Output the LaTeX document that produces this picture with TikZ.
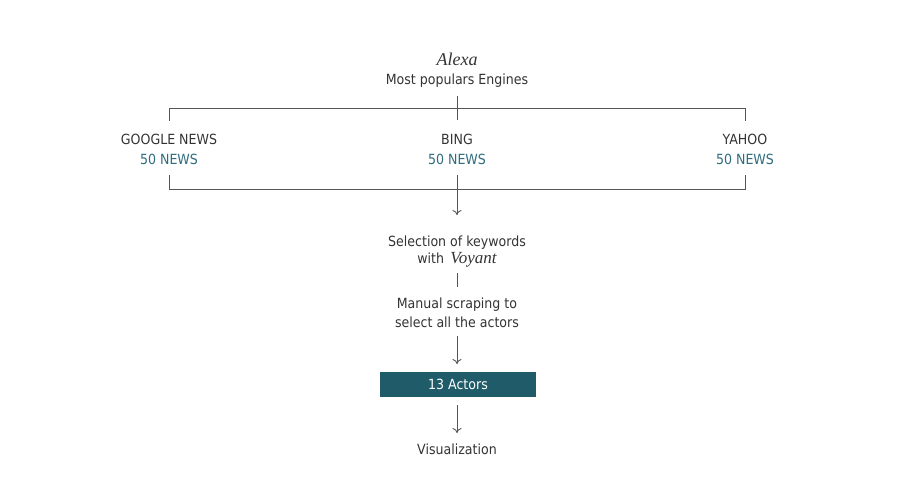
\documentclass[tikz,border=0pt]{standalone}
\usepackage{fontspec}
\usetikzlibrary{arrows.meta}
\setmainfont{DejaVu Sans Condensed}
\newfontfamily\serifit{Liberation Serif}
\definecolor{ink}{HTML}{333333}
\definecolor{newsblue}{HTML}{2D6B7D}
\definecolor{boxfill}{HTML}{1F5B69}
\definecolor{rulegray}{HTML}{555555}
\tikzset{
  lbl/.style={text=ink, font=\fontsize{14}{18.5}\selectfont, inner sep=0pt, align=center, yshift=-1.5pt},
  news/.style={lbl, text=newsblue},
  tool/.style={lbl, font=\serifit\itshape\fontsize{18}{20}\selectfont},
  link/.style={draw=rulegray, line width=0.9pt},
  arr/.style={link, -{To[length=5pt,width=9pt]}},
  actorbox/.style={fill=boxfill, text=white, font=\fontsize{14}{16}\selectfont,
    minimum width=156pt, minimum height=25pt, inner sep=0pt}
}
\begin{document}
\begin{tikzpicture}[x=1pt,y=-1pt]
  \useasboundingbox (0,0) rectangle (900,500);
  % source
  \node[tool] (alexa) at (457,58) {Alexa};
  \node[lbl] (engines) at (457,79) {Most populars Engines};
  % engines
  \node[lbl] (google) at (169,138) {GOOGLE NEWS};
  \node[news] (googlenews) at (169,158) {50 NEWS};
  \node[lbl] (bing) at (457,138) {BING};
  \node[news] (bingnews) at (457,158) {50 NEWS};
  \node[lbl] (yahoo) at (745,138) {YAHOO};
  \node[news] (yahoonews) at (745,158) {50 NEWS};
  % bracket corners
  \coordinate (tick) at (457,96);
  \coordinate (tickend) at (457,120);
  \coordinate (ul) at (169,108);
  \coordinate (ur) at (745,108);
  \coordinate (ulend) at (169,121);
  \coordinate (urend) at (745,121);
  \coordinate (ll) at (169,189);
  \coordinate (lr) at (745,189);
  \coordinate (llstart) at (169,175);
  \coordinate (lrstart) at (745,175);
  \draw[link] (tick) -- (tickend);
  \draw[link] (ulend) -- (ul) -- (ur) -- (urend);
  \draw[link] (llstart) -- (ll) -- (lr) -- (lrstart);
  % steps
  \node[lbl] (keywords) at (457,250) {Selection of keywords\\[-1pt]with\, {\serifit\itshape\fontsize{17}{18}\selectfont Voyant}};
  \node[lbl] (scraping) at (457,311.5) {Manual scraping to\\select all the actors};
  \node[actorbox] (actors) at (458,384.5) {13 Actors};
  \node[lbl] (viz) at (457,448) {Visualization};
  \coordinate (bingout) at (457,175);
  \coordinate (kwin) at (457,215);
  \coordinate (kwout) at (457,273);
  \coordinate (scin) at (457,287);
  \coordinate (scout) at (457,336);
  \coordinate (acin) at (457,364);
  \coordinate (acout) at (457,405);
  \coordinate (vzin) at (457,433);
  \draw[arr] (bingout) -- (kwin);
  \draw[link] (kwout) -- (scin);
  \draw[arr] (scout) -- (acin);
  \draw[arr] (acout) -- (vzin);
\end{tikzpicture}
\end{document}
